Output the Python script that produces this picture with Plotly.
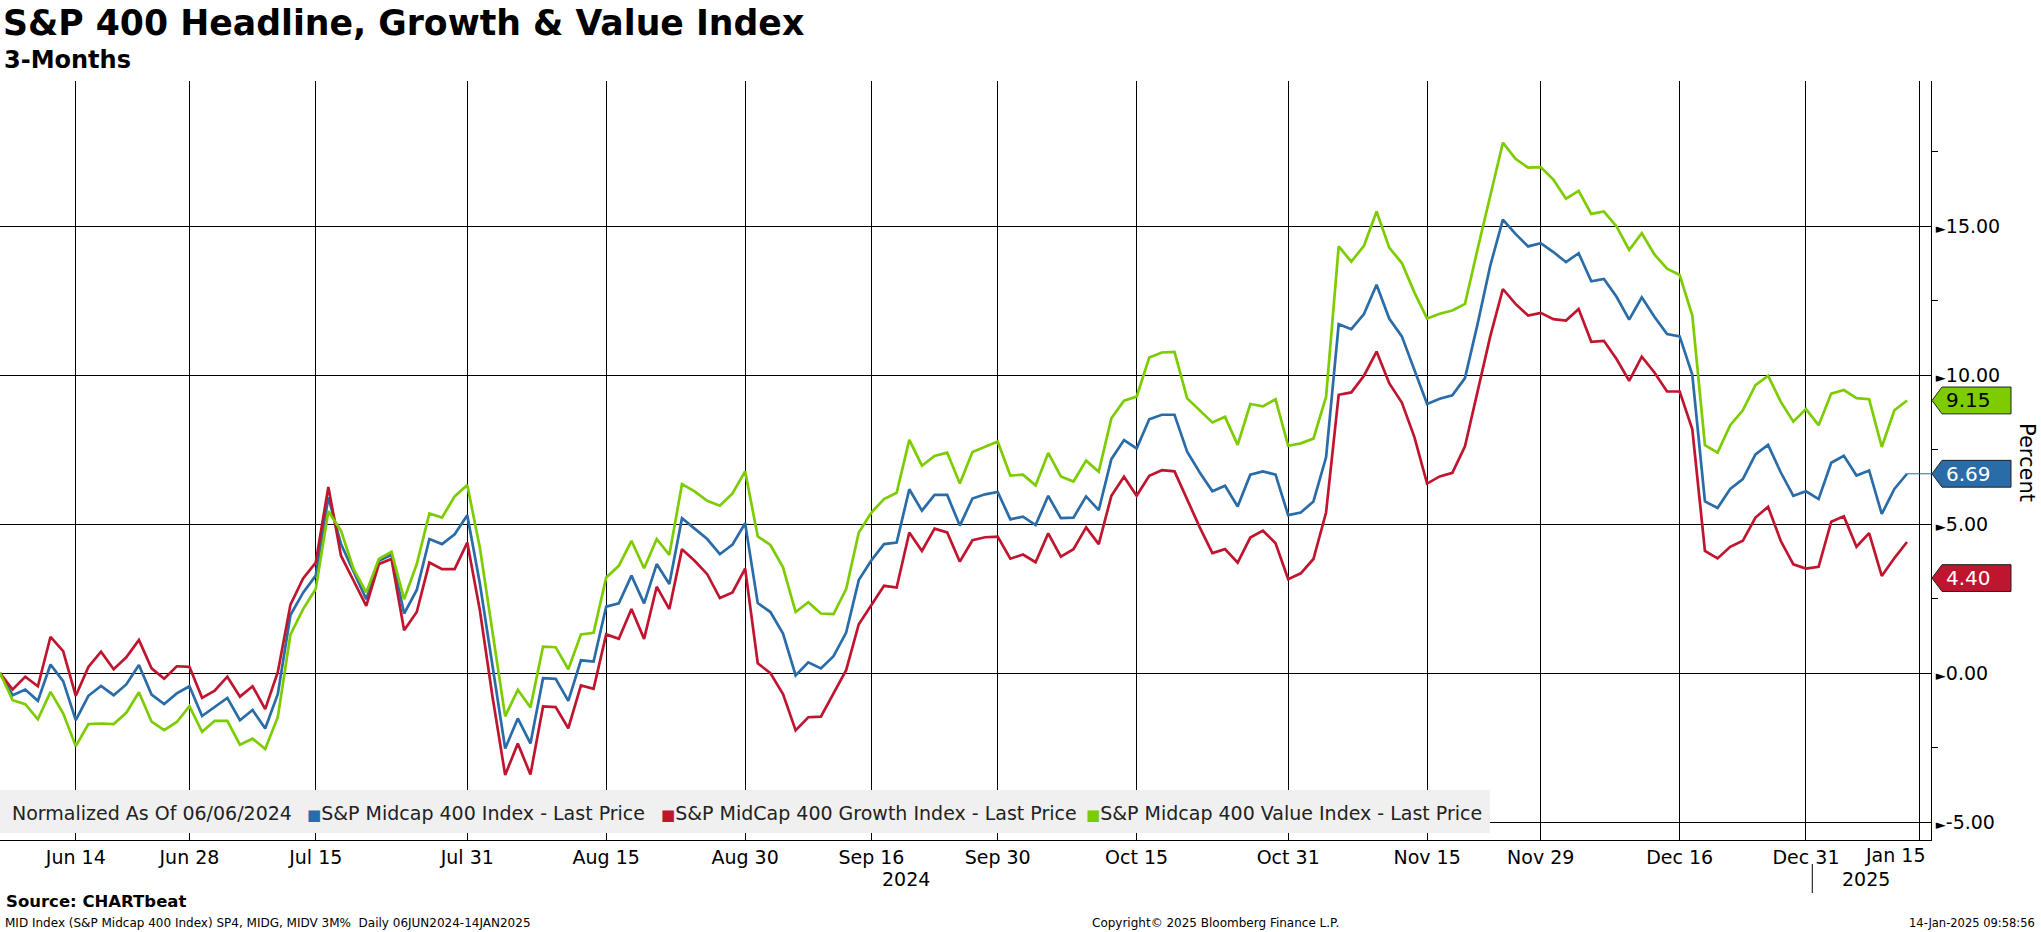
import pandas as pd
import plotly.graph_objects as go

# ---------------- data ----------------
START, END = "2024-06-06", "2025-01-14"
HOLIDAYS = ["2024-06-19", "2024-07-04", "2024-09-02", "2024-11-28",
            "2024-12-25", "2025-01-01", "2025-01-09"]
dates = pd.bdate_range(START, END, freq="C", holidays=HOLIDAYS)

tick_dates = ["2024-06-14", "2024-06-28", "2024-07-15", "2024-07-31", "2024-08-15",
              "2024-08-30", "2024-09-16", "2024-09-30", "2024-10-15", "2024-10-31",
              "2024-11-15", "2024-11-29", "2024-12-16", "2024-12-31", "2025-01-15"]
tick_labels = ["Jun 14", "Jun 28", "Jul 15", "Jul 31", "Aug 15", "Aug 30", "Sep 16",
               "Sep 30", "Oct 15", "Oct 31", "Nov 15", "Nov 29", "Dec 16", "Dec 31", "Jan 15"]

midcap = [0, -0.74, -0.55, -0.93, 0.29, -0.27, -1.58, -0.76, -0.43, -0.74,
          -0.38, 0.27, -0.72, -1.04, -0.68, -0.44, -1.44, -1.13, -0.83, -1.58,
          -1.24, -1.86, -0.70, 1.95, 2.70, 3.27, 5.90, 4.33, 3.38, 2.48,
          3.77, 3.97, 2.00, 2.79, 4.50, 4.33, 4.66, 5.30, 3.00, 0.20,
          -2.53, -1.52, -2.36, -0.17, -0.19, -0.93, 0.43, 0.39, 2.23, 2.34,
          3.27, 2.34, 3.66, 2.99, 5.20, 4.85, 4.50, 3.99, 4.31, 5.03,
          2.35, 2.05, 1.33, -0.08, 0.36, 0.16, 0.57, 1.36, 3.12, 3.79,
          4.33, 4.38, 6.17, 5.45, 5.98, 5.98, 4.95, 5.86, 6.00, 6.08,
          5.16, 5.25, 4.97, 5.95, 5.20, 5.22, 5.93, 5.47, 7.18, 7.82,
          7.54, 8.52, 8.67, 8.67, 7.43, 6.73, 6.10, 6.29, 5.59, 6.66,
          6.77, 6.66, 5.30, 5.39, 5.76, 7.24, 11.71, 11.54, 12.05, 13.03,
          11.90, 11.30, 10.15, 9.03, 9.21, 9.32, 9.90, 11.72, 13.67, 15.22,
          14.74, 14.32, 14.43, 14.13, 13.79, 14.09, 13.15, 13.23, 12.63, 11.86,
          12.61, 11.96, 11.38, 11.30, 10.01, 5.76, 5.54, 6.18, 6.51, 7.34,
          7.66, 6.74, 5.95, 6.10, 5.84, 7.06, 7.29, 6.63, 6.80, 5.34,
          6.18, 6.69]

growth = [0, -0.55, -0.12, -0.44, 1.22, 0.74, -0.76, 0.21, 0.72, 0.13,
          0.53, 1.11, 0.16, -0.19, 0.23, 0.21, -0.83, -0.59, -0.12, -0.79,
          -0.44, -1.21, 0.04, 2.30, 3.18, 3.71, 6.25, 3.94, 3.10, 2.26,
          3.66, 3.83, 1.44, 2.05, 3.71, 3.49, 3.49, 4.38, 2.10, -0.80,
          -3.42, -2.36, -3.40, -1.12, -1.14, -1.85, -0.41, -0.53, 1.30, 1.15,
          2.15, 1.15, 2.90, 2.15, 4.16, 3.77, 3.32, 2.52, 2.71, 3.51,
          0.33, 0.00, -0.70, -1.92, -1.48, -1.46, -0.68, 0.10, 1.64, 2.30,
          2.93, 2.87, 4.72, 4.10, 4.85, 4.72, 3.74, 4.46, 4.56, 4.58,
          3.84, 3.98, 3.72, 4.69, 3.91, 4.16, 4.89, 4.33, 5.95, 6.59,
          5.95, 6.62, 6.81, 6.77, 5.84, 4.89, 4.03, 4.16, 3.71, 4.55,
          4.78, 4.36, 3.15, 3.35, 3.83, 5.39, 9.34, 9.42, 9.98, 10.79,
          9.73, 9.08, 7.91, 6.36, 6.60, 6.72, 7.61, 9.45, 11.30, 12.89,
          12.39, 12.00, 12.09, 11.88, 11.83, 12.22, 11.12, 11.15, 10.54, 9.81,
          10.62, 10.09, 9.45, 9.45, 8.18, 4.10, 3.85, 4.24, 4.44, 5.22,
          5.58, 4.44, 3.65, 3.51, 3.57, 5.08, 5.26, 4.24, 4.70, 3.26,
          3.86, 4.40]

value = [0, -0.91, -1.04, -1.55, -0.63, -1.35, -2.45, -1.71, -1.69, -1.71,
         -1.33, -0.64, -1.63, -1.91, -1.64, -1.11, -1.97, -1.60, -1.60, -2.40,
         -2.20, -2.55, -1.47, 1.30, 2.15, 2.82, 5.43, 4.78, 3.49, 2.71,
         3.83, 4.07, 2.48, 3.66, 5.36, 5.22, 5.93, 6.31, 4.20, 1.30,
         -1.45, -0.56, -1.15, 0.89, 0.87, 0.13, 1.30, 1.35, 3.21, 3.60,
         4.44, 3.52, 4.50, 3.97, 6.34, 6.10, 5.78, 5.62, 6.03, 6.77,
         4.59, 4.30, 3.55, 2.05, 2.38, 2.00, 1.98, 2.82, 4.72, 5.39,
         5.84, 6.05, 7.83, 6.96, 7.29, 7.40, 6.36, 7.42, 7.60, 7.77,
         6.63, 6.66, 6.30, 7.39, 6.60, 6.43, 7.13, 6.76, 8.55, 9.14,
         9.28, 10.59, 10.76, 10.78, 9.22, 8.83, 8.41, 8.60, 7.66, 9.03,
         8.95, 9.19, 7.63, 7.71, 7.87, 9.27, 14.32, 13.81, 14.34, 15.49,
         14.28, 13.76, 12.77, 11.90, 12.06, 12.17, 12.39, 14.23, 16.00, 17.80,
         17.26, 16.96, 16.98, 16.56, 15.92, 16.18, 15.41, 15.49, 14.99, 14.20,
         14.76, 14.05, 13.57, 13.36, 12.00, 7.65, 7.40, 8.32, 8.82, 9.66,
         9.98, 9.11, 8.44, 8.86, 8.32, 9.38, 9.50, 9.23, 9.19, 7.59,
         8.82, 9.15]

series_names = ["S&P Midcap 400 Index - Last Price",
                "S&P MidCap 400 Growth Index - Last Price",
                "S&P Midcap 400 Value Index - Last Price"]
y_ticks = [-5, 0, 5, 10, 15]
y_minor = [-2.5, 2.5, 7.5, 12.5, 17.5]

# ---------------- styling ----------------
W, H = 2041, 932
PL, PR, PT, PB = 0, 1931, 81, 840
FONT = "DejaVu Sans"
BLUE, RED, GREEN = "#2a6ca8", "#c0152f", "#7dcc00"
X_RANGE = [0, 152.9]
Y_RANGE = [-5.6, 19.87]


def px(xp):
    return (xp - PL) / (PR - PL)


def py(yp):
    return (PB - yp) / (PB - PT)


xs = list(range(len(dates)))
date_txt = [d.strftime("%d/%m/%Y") for d in dates]
tick_pos = [int(dates.searchsorted(pd.Timestamp(d))) for d in tick_dates]

fig = go.Figure()
for ys, nm, col in [(midcap, series_names[0], BLUE),
                    (growth, series_names[1], RED),
                    (value, series_names[2], GREEN)]:
    fig.add_trace(go.Scatter(x=xs, y=ys, mode="lines", name=nm,
                             line=dict(color=col, width=2.7),
                             customdata=date_txt,
                             hovertemplate="%{customdata}: %{y:.2f}<extra></extra>",
                             showlegend=False))

shapes = []
annotations = []

# legend box
shapes.append(dict(type="rect", xref="paper", yref="paper", layer="above",
                   x0=px(0), x1=px(1490), y0=py(833), y1=py(790),
                   fillcolor="#f0f0f0", line=dict(width=0)))
annotations.append(dict(xref="paper", yref="paper", x=px(10), y=py(813),
                        xanchor="left", yanchor="middle", showarrow=False,
                        text="Normalized As Of 06/06/2024",
                        font=dict(family=FONT, size=19, color="#222")))
for nm, col, xp in [(series_names[0], BLUE, 305),
                    (series_names[1], RED, 659),
                    (series_names[2], GREEN, 1084)]:
    annotations.append(dict(xref="paper", yref="paper", x=px(xp), y=py(813),
                            xanchor="left", yanchor="middle", showarrow=False,
                            text=f"<span style='color:{col};font-size:15px'>■</span>{nm}",
                            font=dict(family=FONT, size=19, color="#222")))

# last-value tags
tag_offset = {0: 0.0, 1: -1.21, 2: 0.0}
for i, (ys, col, tcol) in enumerate([(midcap, BLUE, "white"),
                                     (growth, RED, "white"),
                                     (value, GREEN, "black")]):
    yv = ys[-1] + tag_offset[i]
    h = 0.45
    x0, x1, x2 = px(1932), px(1942), px(2011)
    shapes.append(dict(type="path", xref="paper", yref="y", layer="above",
                       path=f"M {x0} {yv} L {x1} {yv + h} L {x2} {yv + h} L {x2} {yv - h} L {x1} {yv - h} Z",
                       fillcolor=col, line=dict(color="#222", width=1)))
    annotations.append(dict(xref="paper", yref="y", x=px(1944), y=yv,
                            xanchor="left", yanchor="middle", showarrow=False,
                            text=f"{ys[-1]:.2f}",
                            font=dict(family=FONT, size=20, color=tcol)))
# connector for headline series
shapes.append(dict(type="line", xref="paper", yref="y",
                   x0=(len(midcap) - 1) / X_RANGE[1], x1=px(1932),
                   y0=midcap[-1], y1=midcap[-1], line=dict(color=BLUE, width=1)))

# last x tick label is right-aligned against the axis end (as in the source chart)
shown_ticktext = tick_labels[:-1] + [""]
annotations.append(dict(xref="x", yref="paper", x=tick_pos[-1], y=py(855), xshift=8,
                        xanchor="right", yanchor="middle", showarrow=False,
                        text=tick_labels[-1], font=dict(family=FONT, size=19, color="black")))

# year labels + separator
year_break = int(dates.searchsorted(pd.Timestamp("2025-01-01"))) - 0.5
annotations.append(dict(xref="x", yref="paper", x=year_break / 2, y=py(879),
                        xanchor="center", yanchor="middle", showarrow=False,
                        text="2024", font=dict(family=FONT, size=19, color="black")))
annotations.append(dict(xref="x", yref="paper", x=(year_break + tick_pos[-1]) / 2, y=py(879),
                        xanchor="center", yanchor="middle", showarrow=False,
                        text="2025", font=dict(family=FONT, size=19, color="black")))
shapes.append(dict(type="line", xref="x", yref="paper", x0=year_break, x1=year_break,
                   y0=py(864), y1=py(893), line=dict(color="black", width=1)))

# axis title
annotations.append(dict(xref="paper", yref="paper", x=px(2027), y=py(462),
                        xanchor="center", yanchor="middle", showarrow=False, textangle=90,
                        text="Percent", font=dict(family=FONT, size=21, color="black")))

# titles
annotations.append(dict(xref="paper", yref="paper", x=px(1), y=py(23),
                        xanchor="left", yanchor="middle", showarrow=False,
                        text="<b>S&P 400 Headline, Growth & Value Index</b>",
                        font=dict(family=FONT, size=34.7, color="black")))
annotations.append(dict(xref="paper", yref="paper", x=px(2), y=py(60),
                        xanchor="left", yanchor="middle", showarrow=False,
                        text="<b>3-Months</b>",
                        font=dict(family=FONT, size=24, color="black")))

# footer
annotations.append(dict(xref="paper", yref="paper", x=px(4), y=py(901),
                        xanchor="left", yanchor="middle", showarrow=False,
                        text="<b>Source: CHARTbeat</b>",
                        font=dict(family=FONT, size=16.5, color="black")))
annotations.append(dict(xref="paper", yref="paper", x=px(3), y=py(923),
                        xanchor="left", yanchor="middle", showarrow=False,
                        text="MID Index (S&P Midcap 400 Index) SP4, MIDG, MIDV 3M%  Daily 06JUN2024-14JAN2025",
                        font=dict(family=FONT, size=12, color="black")))
annotations.append(dict(xref="paper", yref="paper", x=px(1215), y=py(923),
                        xanchor="center", yanchor="middle", showarrow=False,
                        text="Copyright© 2025 Bloomberg Finance L.P.",
                        font=dict(family=FONT, size=12, color="black")))
annotations.append(dict(xref="paper", yref="paper", x=px(2037), y=py(923),
                        xanchor="right", yanchor="middle", showarrow=False,
                        text="14-Jan-2025 09:58:56",
                        font=dict(family=FONT, size=11.5, color="black")))

fig.update_layout(
    width=W, height=H, autosize=False,
    margin=dict(l=PL, r=W - PR, t=PT, b=H - PB, pad=0),
    paper_bgcolor="white", plot_bgcolor="white",
    font=dict(family=FONT, size=19, color="black"),
    showlegend=False,
    shapes=shapes, annotations=annotations,
    xaxis=dict(range=X_RANGE, tickmode="array", tickvals=tick_pos, ticktext=shown_ticktext,
               showgrid=True, gridcolor="black", gridwidth=1, zeroline=False,
               showline=True, linecolor="black", linewidth=1, ticks="",
               tickfont=dict(family=FONT, size=19, color="black")),
    yaxis=dict(range=Y_RANGE, side="right", tickmode="array", tickvals=y_ticks,
               ticktext=[f"<span style='font-size:13px'>►</span>{v:.2f}" for v in y_ticks],
               showgrid=True, gridcolor="black", gridwidth=1, zeroline=False,
               showline=True, linecolor="black", linewidth=1, ticks="",
               minor=dict(tickvals=y_minor, ticks="outside", ticklen=6,
                          tickcolor="black", showgrid=False),
               tickfont=dict(family=FONT, size=19, color="black")),
)

fig.write_html("out.html", config={"displayModeBar": False},
               post_script="document.body.style.margin='0';document.body.style.overflow='hidden';")
